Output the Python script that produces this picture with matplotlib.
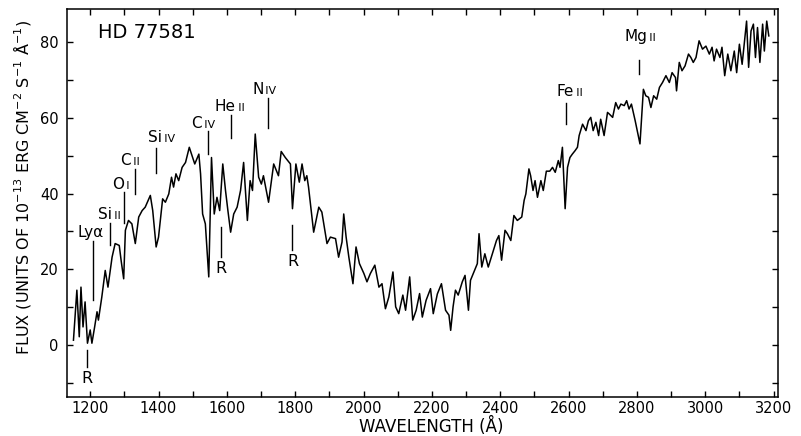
import matplotlib
matplotlib.use("Agg")
import matplotlib.pyplot as plt
from matplotlib.ticker import MultipleLocator

# ---- data ----
wavelength = [
    1151, 1161, 1168, 1173, 1179, 1185, 1192, 1200, 1205, 1213, 1220, 1224, 1234, 1244, 1252,
    1264, 1273, 1285, 1291, 1298, 1303, 1312, 1322, 1332, 1342, 1352, 1361, 1376, 1383, 1393,
    1400, 1412, 1420, 1430, 1438, 1444, 1451, 1459, 1469, 1479, 1490, 1498, 1506, 1518, 1523,
    1529, 1537, 1547, 1555, 1563, 1571, 1579, 1588, 1596, 1603, 1611, 1620, 1630, 1640, 1649,
    1660, 1668, 1675, 1683, 1693, 1701, 1707, 1722, 1737, 1743, 1751, 1759, 1771, 1786, 1792,
    1802, 1812, 1820, 1828, 1834, 1839, 1854, 1869, 1878, 1893, 1903, 1918, 1927, 1937, 1942,
    1949, 1957, 1969, 1978, 1988, 2001, 2010, 2020, 2033, 2045, 2054, 2064, 2074, 2086, 2094,
    2103, 2115, 2123, 2135, 2144, 2154, 2164, 2172, 2183, 2196, 2204, 2216, 2228, 2240, 2250,
    2255, 2262, 2269, 2277, 2289, 2297, 2307, 2313, 2323, 2333, 2338, 2346, 2355, 2365, 2377,
    2389, 2396, 2404, 2414, 2421, 2431, 2440, 2450, 2463, 2470, 2475, 2484, 2489, 2496, 2502,
    2509, 2519, 2526, 2535, 2545, 2553, 2561, 2570, 2575, 2582, 2590, 2597, 2604, 2611, 2619,
    2626, 2631, 2641, 2651, 2658, 2665, 2672, 2680, 2688, 2694, 2704, 2714, 2719, 2729, 2738,
    2746, 2753, 2763, 2770, 2777, 2784, 2795, 2809, 2819, 2826, 2834, 2841, 2849, 2858, 2866,
    2875, 2885, 2895, 2903, 2913, 2916, 2924, 2932, 2941, 2951, 2958, 2965, 2973, 2982, 2992,
    3002, 3012, 3020, 3026, 3033, 3043, 3049, 3057, 3066, 3075, 3085, 3092, 3100, 3108, 3115,
    3121, 3127, 3134, 3141, 3147, 3153, 3160, 3168, 3173, 3180, 3186,
]
flux = [
    1.3, 14.5, 2.2, 15.3, 4.8, 11.4, 0.5, 4.0, 0.5, 4.8, 8.8, 6.6, 12.7, 19.7, 15.3,
    23.2, 26.8, 26.3, 22.0, 17.5, 30.3, 32.9, 32.0, 26.8, 33.8, 35.5, 36.4, 39.5, 35.5, 25.9,
    28.5, 38.6, 37.7, 39.9, 44.3, 41.7, 45.2, 43.4, 46.9, 48.2, 52.2, 50.0, 47.8, 50.4, 45.2,
    34.6, 32.0, 18.0, 49.5, 34.6, 39.0, 35.5, 47.8, 40.8, 35.5, 29.8, 34.6, 36.4, 40.8, 48.2,
    32.9, 43.4, 40.8, 55.7, 44.3, 42.5, 44.7, 37.7, 47.8, 46.5, 44.7, 51.1, 49.5, 47.8, 36.0,
    47.8, 43.0, 47.8, 43.4, 44.7, 41.7, 29.8, 36.4, 35.1, 26.8, 28.5, 28.1, 23.2, 27.2, 34.6,
    28.5, 23.2, 16.2, 25.9, 21.5, 18.9, 16.7, 18.9, 21.1, 15.3, 16.2, 9.6, 12.7, 19.3, 10.1,
    8.3, 13.2, 9.2, 18.0, 6.6, 9.2, 13.6, 7.4, 11.8, 14.9, 8.3, 13.5, 16.2, 9.2, 7.9,
    3.9, 10.1, 14.5, 13.2, 16.7, 18.4, 9.2, 17.1, 19.3, 21.5, 29.4, 20.6, 24.1, 20.6, 24.1,
    27.6, 28.9, 22.4, 30.3, 29.4, 27.6, 34.2, 32.9, 33.8, 38.2, 39.9, 46.5, 44.7, 40.8, 43.4,
    39.0, 43.4, 40.8, 45.9, 45.9, 46.9, 45.6, 48.7, 46.9, 52.2, 36.0, 46.9, 49.5, 50.4, 51.3,
    52.2, 55.3, 58.3, 56.6, 59.2, 60.1, 56.6, 58.8, 55.3, 59.6, 55.3, 61.4, 61.0, 60.1, 64.0,
    62.3, 63.6, 63.2, 64.5, 62.3, 63.6, 59.2, 53.1, 67.5, 65.8, 65.4, 62.7, 65.8, 64.9, 68.0,
    69.3, 71.1, 69.3, 71.9, 70.6, 67.1, 74.6, 72.4, 73.7, 76.8, 75.9, 74.6, 75.9, 80.3, 78.1,
    78.9, 76.8, 78.6, 75.0, 78.1, 75.9, 78.6, 71.1, 76.8, 72.4, 77.6, 71.9, 79.4, 74.1, 80.3,
    85.5, 73.3, 82.9, 84.7, 75.9, 83.8, 74.6, 84.7, 77.6, 85.5, 81.6,
]

# line identifications: element, ion, split wavelength, label baseline flux, marker wl, marker y0, y1
line_elements = ["Si", "O", "C", "Si", "C", "He", "N", "Fe", "Mg"]
line_ions = ["II", "I", "II", "IV", "IV", "II", "IV", "II", "II"]
label_split_wl = [1265, 1299, 1318, 1411, 1526, 1626, 1707, 2616, 2831]
label_base_flux = [33.3, 41.2, 47.4, 53.5, 57.4, 61.8, 66.2, 65.8, 80.3]
marker_wl = [1257, 1300, 1331, 1392, 1546, 1611, 1720, 2592, 2807]
marker_top = [32.1, 40.3, 46.5, 52.1, 56.6, 60.8, 65.3, 63.9, 75.3]
marker_bottom = [26.3, 32.1, 40.0, 45.3, 50.5, 54.7, 57.4, 58.4, 71.6]

lya_wl, lya_label_flux, lya_top, lya_bottom = 1209, 28.4, 27.6, 11.8
r_wl = [1191, 1583, 1792]
r_top = [-1.3, 31.1, 31.6]
r_bottom = [-5.8, 23.2, 25.0]

x_ticklabels = ["1200", "1400", "1600", "1800", "2000", "2200", "2400", "2600", "2800", "3000", "3200"]
y_ticklabels = ["0", "20", "40", "60", "80"]

# ---- figure ----
plt.rcParams['font.family'] = ['DejaVu Sans']
fig = plt.figure(figsize=(8.01, 4.36), dpi=100)
ax = fig.add_axes([0.0836, 0.0894, 0.9713 - 0.0836, 0.9794 - 0.0894])

ax.plot(wavelength, flux, color='black', lw=1.1)

ax.set_xlim(1132, 3213)
ax.set_ylim(-13.7, 88.7)

ax.set_xticks([int(t) for t in x_ticklabels])
ax.set_xticklabels(x_ticklabels)
ax.set_yticks([int(t) for t in y_ticklabels])
ax.set_yticklabels(y_ticklabels)
ax.xaxis.set_minor_locator(MultipleLocator(100))
ax.yaxis.set_minor_locator(MultipleLocator(10))
ax.tick_params(which='both', direction='in', length=4, width=1, top=True, right=True,
               labelsize=10.5)
ax.tick_params(axis='x', which='both', pad=3)
ax.tick_params(axis='y', which='both', pad=6)
for s in ax.spines.values():
    s.set_linewidth(1.1)

ax.set_xlabel("WAVELENGTH (Å)", fontsize=12)
ax.xaxis.set_label_coords(0.512, -0.05)
ax.set_ylabel(r"FLUX (UNITS OF $\mathregular{10^{-13}}$ ERG CM$^{-2}$ S$^{-1}$ Å$^{-1}$)",
              fontsize=11.5)
ax.yaxis.set_label_coords(-0.048, 0.54)

ax.text(1224, 81, "HD 77581", fontsize=14, ha='left', va='baseline')

for el, ion, sx, by, mw, mt, mb in zip(line_elements, line_ions, label_split_wl,
                                        label_base_flux, marker_wl, marker_top, marker_bottom):
    ax.text(sx, by, el, fontsize=11, ha='right', va='baseline')
    ax.text(sx, by, "\u2009" + ion, fontsize=8, ha='left', va='baseline')
    ax.plot([mw, mw], [mb, mt], color='black', lw=1)

ax.text(1200, lya_label_flux, "Lyα", fontsize=11, ha='center', va='baseline')
ax.plot([lya_wl, lya_wl], [lya_bottom, lya_top], color='black', lw=1)

for w, t, b in zip(r_wl, r_top, r_bottom):
    ax.plot([w, w], [b, t], color='black', lw=1)
    ax.text(w, b - 1.0, "R", fontsize=11.5, ha='center', va='top')

fig.savefig("out.png", dpi=100)
